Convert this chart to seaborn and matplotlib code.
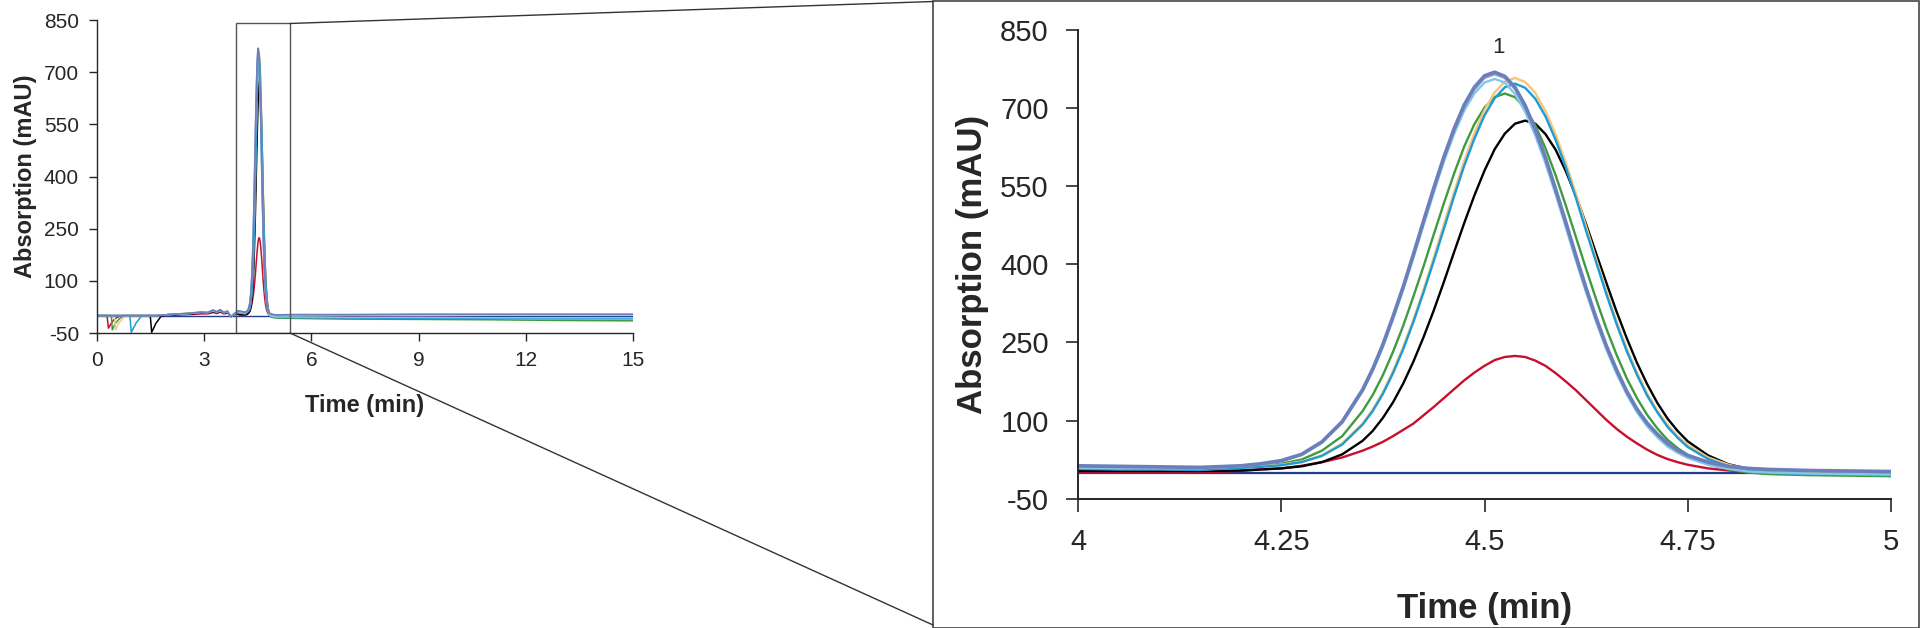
import matplotlib
matplotlib.use("Agg")
import matplotlib.pyplot as plt
from matplotlib.patches import Rectangle, ConnectionPatch
import pandas as pd
import seaborn as sns


# ------------------------------------------------------------------
# data (time in min, absorption in mAU)
# ------------------------------------------------------------------
time_pre = [0.0, 0.28, 0.32, 0.40, 0.43, 0.45, 0.49, 0.52, 0.55, 0.60, 0.65,
            0.72, 0.82, 0.92, 0.96, 1.10, 1.25, 1.49, 1.53, 1.65, 1.80, 2.0,
            2.6, 2.9, 3.1, 3.25, 3.35, 3.45, 3.55, 3.65, 3.75, 3.85, 3.95]
time_peak = [4.0, 4.05, 4.1, 4.15, 4.2, 4.225, 4.25, 4.275, 4.3, 4.325,
             4.35, 4.3625, 4.375, 4.3875, 4.4, 4.4125, 4.425, 4.4375, 4.45,
             4.4625, 4.475, 4.4875, 4.5, 4.5125, 4.525, 4.5375, 4.55, 4.5625,
             4.575, 4.5875, 4.6, 4.6125, 4.625, 4.6375, 4.65, 4.6625, 4.675,
             4.6875, 4.7, 4.7125, 4.725, 4.7375, 4.75,
             4.775, 4.8, 4.825, 4.85, 4.9, 4.95, 5.0]
time_post = [5.5, 7.0, 9.0, 11.0, 13.0, 15.0]
time_min = time_pre + time_peak + time_post

abs_blue = ([0] * 20 + [1, 3, 7, 10, 9, 16, 11, 17, 9, 13, -4, 6, 14]
            + [13, 12, 11, 10, 13, 17, 23, 35, 59, 98,
               159, 199, 246, 300, 357, 419, 483, 546, 606, 660, 706, 740, 762,
               769, 761, 740, 705, 659, 605, 544, 481, 416, 354, 296, 243, 197,
               156, 122, 95, 74, 56, 43, 33,
               20, 12, 8, 6, 4, 3, 2]
            + [3, 3, 4, 4, 4, 4])
abs_lavender = ([0] * 20 + [1, 3, 7, 10, 9, 15, 11, 16, 9, 12, -3, 6, 13]
                + [12, 11, 10, 9, 12, 16, 22, 34, 58, 96,
                   157, 197, 244, 298, 355, 417, 480, 543, 603, 657, 702, 736,
                   758, 765, 758, 737, 702, 656, 602, 541, 479, 414, 352, 294,
                   242, 196, 155, 121, 94, 73, 55, 42, 32,
                   19, 11, 7, 5, 3, 2, 1]
                + [2, 2, 3, 3, 3, 3])
abs_lightblue = ([0] * 20 + [1, 3, 6, 9, 9, 14, 10, 15, 8, 12, -3, 5, 11]
                 + [9, 8, 8, 8, 12, 16, 22, 34, 57, 96,
                    156, 195, 241, 294, 351, 412, 475, 537, 597, 650, 695, 728,
                    749, 756, 749, 727, 693, 647, 594, 534, 471, 407, 346, 289,
                    236, 190, 150, 116, 89, 68, 50, 38, 28,
                    15, 7, 2, 0, -2, -3, -4]
                 + [-4, -5, -5, -6, -6, -6])
abs_green = ([0, 0, 0, 0, -41, -36, -28, -22, -18, -12, -7, -2]
             + [0] * 8 + [1, 3, 6, 9, 8, 14, 10, 15, 8, 12, -4, 5, 10]
             + [8, 7, 7, 6, 10, 13, 17, 25, 42, 70,
                118, 149, 187, 232, 282, 338, 396, 457, 517, 574, 626, 669,
                701, 721, 728, 721, 700, 667, 623, 571, 513, 452, 391, 332,
                276, 226, 181, 143, 111, 85, 63, 47, 34,
                16, 6, 0, -3, -5, -6, -7]
             + [-8, -10, -11, -12, -14, -15])
abs_cyan = ([0] * 14 + [-48, -20, -1, 0, 0, 0]
            + [1, 3, 6, 9, 8, 14, 10, 15, 8, 11, -3, 5, 9]
            + [7, 6, 6, 5, 9, 11, 14, 20, 32, 54,
               92, 118, 151, 191, 237, 289, 346, 406, 468, 530, 589, 641, 686,
               719, 740, 747, 739, 718, 684, 639, 586, 527, 464, 403, 342, 285,
               233, 188, 148, 116, 88, 67, 49,
               26, 12, 4, 0, -3, -4, -5]
            + [-6, -7, -8, -8, -9, -9])
abs_wheat = ([0] * 7 + [-41, -34, -24, -16, -8, -2] + [0] * 7
             + [1, 3, 7, 10, 9, 16, 12, 17, 10, 13, -5, 6, 11]
             + [8, 7, 7, 6, 10, 12, 15, 21, 33, 56,
                94, 121, 154, 195, 241, 293, 351, 412, 476, 538, 598, 651, 696,
                730, 751, 758, 750, 729, 694, 649, 595, 535, 472, 409, 348, 290,
                238, 192, 152, 119, 92, 70, 53,
                29, 15, 6, 2, -1, -3, -4]
             + [-5, -6, -7, -7, -8, -8])
abs_black = ([0] * 18 + [-48, -22, -1]
             + [2, 5, 7, 7, 12, 9, 13, 7, 10, -2, 4, 5]
             + [3, 3, 3, 3, 4, 6, 8, 12, 20, 35,
                61, 80, 105, 135, 171, 213, 260, 311, 366, 423, 479, 532, 580,
                621, 651, 670, 676, 670, 650, 620, 579, 531, 477, 420, 364, 309,
                258, 211, 170, 134, 104, 80, 60,
                33, 16, 7, 2, -2, -3, -4]
             + [-5, -6, -7, -7, -8, -8])
abs_red = ([0, 0, -36, -22, -18, -15, -10, -8, -6, -3, -1] + [0] * 9
           + [0, 1, 3, 5, 5, 9, 6, 10, 5, 7, -2, 3, 4]
           + [0, 0, 0, 1, 3, 6, 8, 13, 20, 29,
              42, 50, 59, 70, 82, 94, 110, 126, 143, 160, 177, 192, 205, 216,
              222, 224, 222, 215, 205, 191, 175, 158, 139, 120, 101, 84, 69,
              56, 44, 34, 26, 20, 15,
              8, 4, 1, -2, -3, -3, -3]
           + [-4, -5, -5, -6, -6, -7])
navy_time = [0.0, 15.0]
abs_navy = [0, 0]

peak_label = "1"
peak_label_pos = (4.517, 797)

# name, values, colour, line width (overview, zoom) -- drawn in this order
traces = [
    ("red", abs_red, "#c8102e", 1.1, 1.7),
    ("black", abs_black, "#000000", 1.1, 1.7),
    ("green", abs_green, "#3f9b3f", 1.1, 1.7),
    ("wheat", abs_wheat, "#f3c77f", 1.1, 1.8),
    ("cyan", abs_cyan, "#1c9bd6", 1.1, 1.7),
    ("lightblue", abs_lightblue, "#7fc8ec", 1.1, 1.7),
    ("lavender", abs_lavender, "#a2a4d2", 1.1, 1.9),
    ("blue", abs_blue, "#6b7fba", 1.2, 2.6),
]

rows = []
for name, vals, _, _, _ in traces:
    for t, v in zip(time_min, vals):
        rows.append({"time": t, "trace": name, "abs": v})
df = pd.DataFrame(rows)
df_navy = pd.DataFrame({"time": navy_time, "abs": abs_navy})

sns.set_style("ticks")
plt.rcParams["font.family"] = ["Liberation Sans", "DejaVu Sans"]
plt.rcParams["axes.unicode_minus"] = False

fig = plt.figure(figsize=(19.2, 6.28), dpi=100)
W, H = 1920, 628

ax1 = fig.add_axes([97 / W, 1 - 333 / H, (633 - 97) / W, (333 - 20) / H])
ax2 = fig.add_axes([1078 / W, 1 - 498.6 / H, (1891 - 1078) / W, (498.6 - 30) / H])

for ax, idx in ((ax1, 3), (ax2, 4)):
    sns.lineplot(data=df_navy, x="time", y="abs", ax=ax, color="#1f3d8c",
                 lw=1.0 if ax is ax1 else 1.6, sort=False, estimator=None)
    for tr in traces:
        sub = df[df["trace"] == tr[0]]
        sns.lineplot(data=sub, x="time", y="abs", ax=ax, color=tr[2],
                     lw=tr[idx], sort=False, estimator=None)

# overview axes
ax1.set_xlim(0, 15)
ax1.set_ylim(-50, 850)
ax1.set_xticks([0, 3, 6, 9, 12, 15])
ax1.set_yticks([-50, 100, 250, 400, 550, 700, 850])
ax1.tick_params(labelsize=15, length=6, width=1, pad=7)
ax1.set_xlabel("Time (min)", fontsize=17, fontweight="bold", labelpad=17)
ax1.set_ylabel("Absorption (mAU)", fontsize=17, fontweight="bold", labelpad=5)
sns.despine(ax=ax1)
for sp in ("left", "bottom"):
    ax1.spines[sp].set_linewidth(1.0)

# zoomed axes
ax2.set_xlim(4, 5)
ax2.set_ylim(-50, 850)
ax2.set_xticks([4, 4.25, 4.5, 4.75, 5])
ax2.set_xticklabels(["4", "4.25", "4.5", "4.75", "5"])
ax2.set_yticks([-50, 100, 250, 400, 550, 700, 850])
ax2.tick_params(labelsize=21, length=9, width=1.2, pad=12)
ax2.set_xlabel("Time (min)", fontsize=25, fontweight="bold", labelpad=26)
ax2.set_ylabel("Absorption (mAU)", fontsize=25, fontweight="bold", labelpad=8)
sns.despine(ax=ax2)
for sp in ("left", "bottom"):
    ax2.spines[sp].set_linewidth(1.4)
ax2.text(peak_label_pos[0], peak_label_pos[1], peak_label, fontsize=16,
         ha="center", va="bottom")

# zoom window on the overview and frame around the zoomed plot
ax1.add_patch(Rectangle((3.9, -50), 1.5, 890, fill=False, ec="#555555",
                        lw=1.0, zorder=5))
fig.add_artist(Rectangle((933 / W, 0.5 / H), (1919 - 933) / W, 627 / H,
                         transform=fig.transFigure, fill=False,
                         ec="#444444", lw=1.2))
for ya, yb in ((840, 1 - 1.5 / H), (-50, 1 - 625 / H)):
    con = ConnectionPatch(xyA=(5.4, ya), coordsA="data", axesA=ax1,
                          xyB=(933 / W, yb), coordsB="figure fraction",
                          color="#333333", lw=1.0)
    fig.add_artist(con)

fig.savefig("out.png", dpi=100)
plt.close(fig)
